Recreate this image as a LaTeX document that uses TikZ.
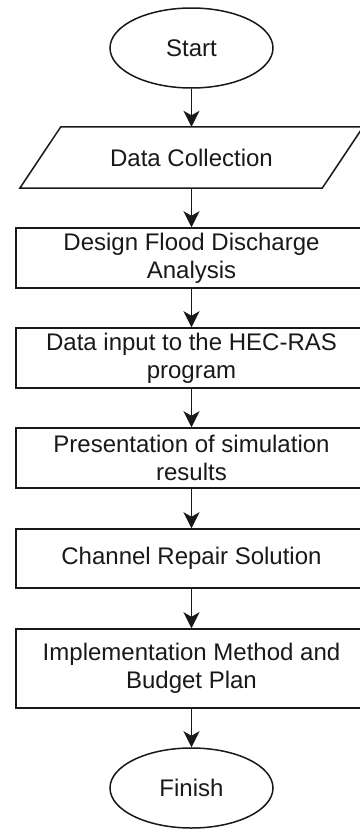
\documentclass[tikz,border=0pt]{standalone}
\usepackage{fontspec}
\setmainfont{Liberation Sans}
\usetikzlibrary{arrows.meta,calc,shapes.geometric}

\tikzset{
  flowline/.style={line width=1.5pt, draw=black!90},
  termbox/.style={ellipse, flowline, minimum width=163pt, minimum height=80pt, inner sep=0pt},
  procbox/.style={rectangle, flowline, minimum width=351pt, inner sep=0pt, align=center},
  iobox/.style={rectangle, minimum width=343pt, minimum height=61pt, inner sep=0pt},
  flowarrow/.style={line width=1.5pt, draw=black!90, -{Stealth[length=16pt,width=16pt,inset=4.5pt]}},
  every node/.style={font=\fontsize{24}{28}\selectfont, text=black!90}
}

\begin{document}
\begin{tikzpicture}[x=1pt,y=-1pt]
  \useasboundingbox[fill=white] (0,0) rectangle (359,830);

  % terminals and process steps
  \node[termbox] (start) at (191.5,48) {Start};
  \node[iobox] (coll) at (191.5,157.5) {Data Collection};
  \draw[flowline] ($(coll.north west)+(41pt,0pt)$) -- (coll.north east)
     -- ($(coll.south east)-(41pt,0pt)$) -- (coll.south west) -- cycle;
  \node[procbox, minimum height=60pt] (design) at (191.5,258) {Design Flood Discharge\\Analysis};
  \node[procbox, minimum height=60pt] (input) at (191.5,358) {Data input to the HEC-RAS\\program};
  \node[procbox, minimum height=60pt] (present) at (191.5,458) {Presentation of simulation\\results};
  \node[procbox, minimum height=59pt] (repair) at (191.5,558.5) {Channel Repair Solution};
  \node[procbox, minimum height=79pt] (budget) at (191.5,668.5) {Implementation Method and\\Budget Plan};
  \node[termbox] (finish) at (191.5,788) {Finish};

  % connectors
  \draw[flowarrow] (start) -- (coll);
  \draw[flowarrow] (coll) -- (design);
  \draw[flowarrow] (design) -- (input);
  \draw[flowarrow] (input) -- (present);
  \draw[flowarrow] (present) -- (repair);
  \draw[flowarrow] (repair) -- (budget);
  \draw[flowarrow] (budget) -- (finish);
\end{tikzpicture}
\end{document}
